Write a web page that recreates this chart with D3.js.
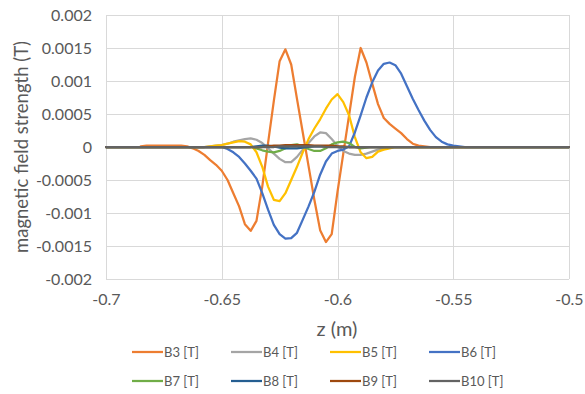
<!DOCTYPE html>
<html>
<head>
<meta charset="utf-8">
<script src="https://cdn.jsdelivr.net/npm/d3@7"></script>
<style>
  html, body { margin: 0; padding: 0; background: #fff; }
  svg { display: block; font-family: Lato, "Open Sans", sans-serif; }
</style>
</head>
<body>
<svg id="chart" width="585" height="394"></svg>
<script>
// ---- data ----
const zValues = [
  -0.7,-0.6975,-0.695,-0.6925,-0.69,-0.6875,-0.685,-0.6825,-0.68,-0.6775,
  -0.675,-0.6725,-0.67,-0.6675,-0.665,-0.6625,-0.66,-0.6575,-0.655,-0.6525,
  -0.65,-0.6475,-0.645,-0.6425,-0.64,-0.6375,-0.635,-0.6325,-0.63,-0.6275,
  -0.625,-0.6225,-0.62,-0.6175,-0.615,-0.6125,-0.61,-0.6075,-0.605,-0.6025,
  -0.6,-0.5975,-0.595,-0.5925,-0.59,-0.5875,-0.585,-0.5825,-0.58,-0.5775,
  -0.575,-0.5725,-0.57,-0.5675,-0.565,-0.5625,-0.56,-0.5575,-0.555,-0.5525,
  -0.55,-0.5475,-0.545,-0.5425,-0.54,-0.5375,-0.535,-0.5325,-0.53,-0.5275,
  -0.525,-0.5225,-0.52,-0.5175,-0.515,-0.5125,-0.51,-0.5075,-0.505,-0.5025,
  -0.5
];

const seriesNames = ["B3 [T]","B4 [T]","B5 [T]","B6 [T]","B7 [T]","B8 [T]","B9 [T]","B10 [T]"];
const seriesColors = ["#ED7D31","#A5A5A5","#FFC000","#4472C4","#70AD47","#255E91","#9E480E","#636363"];

const B3 = [
  null,null,null,null,null,null,0.00001,0.00002,0.00002,0.00002,
  0.00002,0.00002,0.00002,0.00002,0.00001,-0.00002,-0.00006,-0.00012,-0.0002,-0.00027,
  -0.00036,-0.0005,-0.0007,-0.0009,-0.00117,-0.00127,-0.00112,-0.0006,0.00006,0.0007,
  0.0013,0.00148,0.00125,0.00073,0.00022,-0.00029,-0.0008,-0.00126,-0.00144,-0.00132,
  -0.00068,-0.0001,0.00048,0.00106,0.0015,0.00128,0.00096,0.00065,0.00044,0.00035,
  0.00028,0.00021,0.00012,0.00005,0.00002,0.00001,0,0,0,0,
  0,0,0,null,null,null,null,null,null,null,
  null,null,null,null,null,null,null,null,null,null,
  null
];
const B4 = [
  0,0,0,0,0,0,0,0,0,0,
  0,0,0,0,0,0,0,0,0.00001,0.00002,
  0.00003,0.00005,0.00008,0.0001,0.00012,0.00013,0.00011,0.00006,-0.00002,-0.0001,
  -0.00018,-0.00023,-0.00023,-0.00015,-0.00004,0.00006,0.00016,0.00022,0.00021,0.00012,
  0.00002,-0.00006,-0.0001,-0.00012,-0.00012,-0.0001,-0.00007,-0.00004,-0.00002,-0.00001,
  0,0,0,0,0,0,0,0,0,0,
  0,0,0,0,0,0,0,0,0,0,
  0,0,0,0,0,0,0,0,0,0,
  0
];
const B5 = [
  0,0,0,0,0,0,0,0,0,0,
  0,0,0,0,0,0,0,0,0.00001,0.00002,
  0.00003,0.00005,0.00007,0.00009,0.00008,0.00004,-0.00008,-0.0003,-0.0006,-0.0008,
  -0.00082,-0.0007,-0.0005,-0.0003,-0.00008,0.00012,0.00028,0.00042,0.00058,0.00072,
  0.0008,0.00068,0.00048,0.00015,-0.00008,-0.00017,-0.00015,-0.00007,-0.00004,-0.00002,
  0,0,0,0,0,0,0,0,0,0,
  0,0,0,0,0,0,0,0,0,0,
  0,0,0,0,0,0,0,0,0,0,
  0
];
const B6 = [
  0,0,0,0,0,0,0,0,0,0,
  0,0,0,0,0,0,0,0,0,0,
  0,-0.00003,-0.00008,-0.00015,-0.00025,-0.00036,-0.00048,-0.0007,-0.00095,-0.00118,
  -0.00132,-0.00139,-0.00138,-0.0013,-0.0011,-0.0009,-0.00068,-0.00042,-0.00022,-0.0001,
  -0.00006,-0.00004,0.00001,0.00022,0.00048,0.00075,0.00098,0.00116,0.00126,0.00128,
  0.00124,0.00111,0.00092,0.00073,0.00056,0.0004,0.00026,0.00015,0.00008,0.00004,
  0.00002,0.00001,0,0,0,0,0,0,0,0,
  0,0,0,0,0,0,0,0,0,0,
  0
];
const B7 = [
  0,0,0,0,0,0,0,0,0,0,
  0,0,0,0,0,0,0,0,0,0,
  0,0,0,0,0,0,-0.00002,-0.00005,-0.00007,-0.00008,
  -0.00006,-0.00002,0.00003,0.00004,0.00001,-0.00003,-0.00006,-0.00006,-0.00002,0.00004,
  0.00007,0.00008,0.00006,0,-0.00002,-0.00001,0,0,0,0,
  0,0,0,0,0,0,0,0,0,0,
  0,0,0,0,0,0,0,0,0,0,
  0,0,0,0,0,0,0,0,0,0,
  0
];
const B8 = [
  0,0,0,0,0,0,0,0,0,0,
  0,0,0,0,0,0,0,0,0,0,
  0,0,0,0,0,0,0.00001,0.00002,0.00002,0.00001,
  -0.00001,-0.00002,-0.00002,-0.00002,-0.00001,0,0.00001,0.00001,0.00001,0.00001,
  0,0,0,0,0,0,0,0,0,0,
  0,0,0,0,0,0,0,0,0,0,
  0,0,0,0,0,0,0,0,0,0,
  0,0,0,0,0,0,0,0,0,0,
  0
];
const B9 = [
  0,0,0,0,0,0,0,0,0,0,
  0,0,0,0,0,0,0,0,0,0,
  0,0,0,0,0,0,0,0,0.00001,0.00002,
  0.00002,0.00003,0.00003,0.00003,0.00003,0.00003,0.00002,0.00002,0.00002,0.00002,
  0.00001,0.00001,0,0,0,0,0,0,0,0,
  0,0,0,0,0,0,0,0,0,0,
  0,0,0,0,0,0,0,0,0,0,
  0,0,0,0,0,0,0,0,0,0,
  0
];
const B10 = [
  0,0,0,0,0,0,0,0,0,0,
  0,0,0,0,0,0,0,0,0,0,
  0,0,0,0,0,0,0,0,0,0,
  0.00001,0.00001,0.00001,0.00001,0.00001,0.00001,0.00001,0.00001,0,0,
  0,0,0,0,0,0,0,0,0,0,
  0,0,0,0,0,0,0,0,0,0,
  0,0,0,0,0,0,0,0,0,0,
  0,0,0,0,0,0,0,0,0,0,
  0
];

const xTicks = [-0.7,-0.65,-0.6,-0.55,-0.5];
const xTickLabels = ["-0.7","-0.65","-0.6","-0.55","-0.5"];
const yTicks = [0.002,0.0015,0.001,0.0005,0,-0.0005,-0.001,-0.0015,-0.002];
const yTickLabels = ["0.002","0.0015","0.001","0.0005","0","-0.0005","-0.001","-0.0015","-0.002"];

const seriesValues = [B3,B4,B5,B6,B7,B8,B9,B10];

// ---- layout ----
const svg = d3.select("#chart");
const plot = {left: 106, right: 569, top: 15, bottom: 279};

const x = d3.scaleLinear().domain([-0.7,-0.5]).range([plot.left, plot.right]);
const y = d3.scaleLinear().domain([-0.002,0.002]).range([plot.bottom, plot.top]);

const gridColor = "#D9D9D9";
const textColor = "#595959";

// grid
const grid = svg.append("g");
grid.selectAll("line.h").data(yTicks).join("line")
  .attr("x1", plot.left).attr("x2", plot.right)
  .attr("y1", d => Math.round(y(d)) + 0.5).attr("y2", d => Math.round(y(d)) + 0.5)
  .attr("stroke", gridColor).attr("stroke-width", 1);
grid.selectAll("line.v").data(xTicks).join("line")
  .attr("x1", d => Math.round(x(d)) + 0.5).attr("x2", d => Math.round(x(d)) + 0.5)
  .attr("y1", plot.top).attr("y2", plot.bottom)
  .attr("stroke", gridColor).attr("stroke-width", 1);

// axes labels using d3 axes
const yAxis = d3.axisLeft(y).tickValues(yTicks)
  .tickFormat((d,i) => yTickLabels[i]).tickSize(0).tickPadding(14);
const gy = svg.append("g").attr("transform", `translate(${plot.left},0)`).call(yAxis);
gy.select(".domain").remove();
gy.selectAll("text").attr("fill", textColor).style("font-size", "16px")
  .style("font-family", "Lato, 'Open Sans', sans-serif");

const xAxis = d3.axisBottom(x).tickValues(xTicks)
  .tickFormat((d,i) => xTickLabels[i]).tickSize(0).tickPadding(15);
const gx = svg.append("g").attr("transform", `translate(0,${plot.bottom})`).call(xAxis);
gx.select(".domain").remove();
gx.selectAll("text").attr("fill", textColor).style("font-size", "16px")
  .style("font-family", "Lato, 'Open Sans', sans-serif");

// titles
svg.append("text")
  .attr("transform", `translate(21,${(plot.top+plot.bottom)/2}) rotate(-90)`)
  .attr("text-anchor", "middle").attr("dominant-baseline", "central")
  .attr("fill", textColor).style("font-size", "18.5px")
  .text("magnetic field strength (T)");
svg.append("text")
  .attr("x", 337).attr("y", 328)
  .attr("text-anchor", "middle").attr("dominant-baseline", "central")
  .attr("fill", textColor).style("font-size", "20px")
  .text("z (m)");

// lines
const line = d3.line()
  .defined(d => d[1] !== null)
  .x(d => x(d[0])).y(d => y(d[1]));

const lines = svg.append("g");
seriesValues.forEach((vals, si) => {
  const pts = zValues.map((z, i) => [z, vals[i]]);
  lines.append("path")
    .datum(pts)
    .attr("d", line)
    .attr("fill", "none")
    .attr("stroke", seriesColors[si])
    .attr("stroke-width", 2.25)
    .attr("stroke-linejoin", "round")
    .attr("stroke-linecap", "round");
});

// legend
const legCols = [132, 231, 330, 429];
const legRows = [352, 381];
const legend = svg.append("g");
seriesNames.forEach((name, i) => {
  const cx = legCols[i % 4];
  const cy = legRows[Math.floor(i / 4)];
  legend.append("line")
    .attr("x1", cx).attr("x2", cx + 31)
    .attr("y1", cy).attr("y2", cy)
    .attr("stroke", seriesColors[i]).attr("stroke-width", 2.25);
  legend.append("text")
    .attr("x", cx + 32).attr("y", cy)
    .attr("dominant-baseline", "central")
    .attr("fill", textColor).style("font-size", "13px")
    .text(name);
});
</script>
</body>
</html>
